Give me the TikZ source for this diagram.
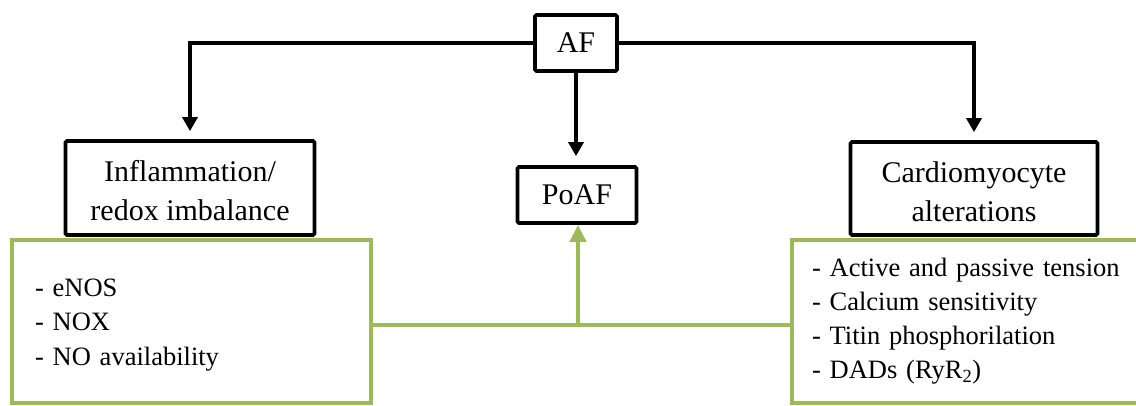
\documentclass[tikz,border=0pt]{standalone}
\usepackage{fontspec}
\setmainfont{Liberation Serif}
\usetikzlibrary{arrows.meta}
\definecolor{leafgreen}{HTML}{9BBB59}
\tikzset{
  blackbox/.style={draw=black, line width=3.7pt, rounded corners=1.5pt, inner sep=0pt,
    align=center, font=\fontsize{30}{39}\selectfont},
  greenbox/.style={draw=leafgreen, line width=4pt, inner ysep=0pt, align=left},
  detailtext/.style={font=\fontsize{26.5}{34.5}\selectfont},
  blackarrow/.style={line width=3.3pt, -{Triangle[width=15pt,length=14pt]}},
  greenline/.style={draw=leafgreen, line width=4pt},
  greenarrow/.style={greenline, -{Triangle[width=16pt,length=17pt]}}
}
% raises the first line so the block sits a little lower in its box
\newcommand{\lowerstrut}[1]{\rule{0pt}{#1}}
\begin{document}
\begin{tikzpicture}[x=1pt, y=-1pt]
  \clip (0,0) rectangle (1136,406);
  \fill[white] (0,0) rectangle (1136,406);

  % top level and the two branches
  \node[blackbox, minimum width=82pt, minimum height=56pt] (af) at (576,43) {AF};
  \node[blackbox, minimum width=249pt, minimum height=94pt] (infl) at (190,188)
    {\lowerstrut{27pt}Inflammation/\\redox imbalance};
  \node[blackbox, minimum width=247pt, minimum height=93pt] (cardio) at (974,188.5)
    {\lowerstrut{27pt}Cardiomyocyte\\alterations};
  \node[blackbox, minimum width=119pt, minimum height=56pt] (poaf) at (577,195) {PoAF};

  % detail boxes
  \node[greenbox, detailtext, minimum width=359pt, minimum height=163pt, inner xsep=23pt,
    text width=313pt] (infldet) at (191.5,321.5)
    {\lowerstrut{24pt}- eNOS\\- NOX\\- NO availability};
  \node[greenbox, detailtext, minimum width=420pt, minimum height=163pt, inner xsep=20pt,
    text width=380pt, font=\fontsize{26.5}{34}\selectfont] (cardiodet) at (1002,321.5)
    {- Active and passive tension\\- Calcium sensitivity\\- Titin phosphorilation\\- DADs (RyR\textsubscript{2})};

  % connectors from AF
  \draw[blackarrow, shorten >=8pt] (af.west) -| (infl.north);
  \draw[blackarrow, shorten >=9pt] (af.south) -- (af.south |- poaf.north);
  \draw[blackarrow, shorten >=8pt] (af.east) -| (cardio.north);

  % joint contribution to PoAF
  \coordinate (junc) at (578,325);
  \draw[greenline] (infldet.east |- junc) -- (cardiodet.west |- junc);
  \draw[greenarrow] (junc) -- (junc |- poaf.south);
\end{tikzpicture}
\end{document}
